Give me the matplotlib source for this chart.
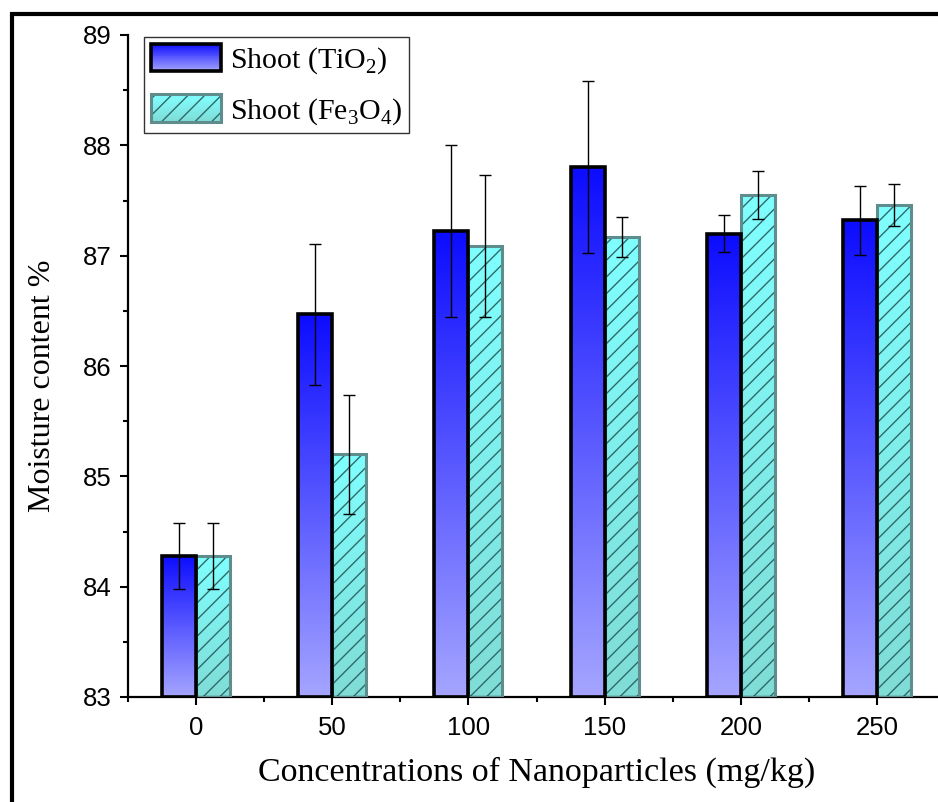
import numpy as np
import matplotlib
matplotlib.use('Agg')
import matplotlib.pyplot as plt
from matplotlib.patches import Rectangle, Patch
from matplotlib.legend_handler import HandlerBase
from matplotlib.ticker import MultipleLocator
from matplotlib.colors import to_rgb

# === Данные ===
concentrations = [0, 50, 100, 150, 200, 250]
tio2_values = [84.28, 86.47, 87.22, 87.80, 87.20, 87.32]
tio2_errors = [0.30, 0.64, 0.78, 0.78, 0.165, 0.31]
fe3o4_values = [84.28, 85.20, 87.09, 87.17, 87.55, 87.46]
fe3o4_errors = [0.30, 0.54, 0.645, 0.18, 0.22, 0.19]

series_labels = ['Shoot (TiO$_2$)', 'Shoot (Fe$_3$O$_4$)']
xlabel = 'Concentrations of Nanoparticles (mg/kg)'
ylabel = 'Moisture content %'

# === Стиль ===
plt.rcParams['mathtext.fontset'] = 'custom'
plt.rcParams['mathtext.rm'] = 'Liberation Serif'
plt.rcParams['hatch.linewidth'] = 1.0

blue_top, blue_bottom = '#0d0dff', '#a4a4ff'
cyan_top, cyan_bottom = '#80ffff', '#7fdcd6'
hatch_color = '#2f6a6a'
cyan_edge = '#5f8c8c'
bar_w = 12.5
y_min, y_max = 83, 89


def gradient(top, bottom, n=64):
    t = np.linspace(0, 1, n)[:, None, None]
    c0 = np.array(to_rgb(top))[None, None, :]
    c1 = np.array(to_rgb(bottom))[None, None, :]
    return c0 * (1 - t) + c1 * t


class GradientHandler(HandlerBase):
    # legend handle: stacked stripes give a vertical gradient
    def __init__(self, top, bottom, edge, lw, n=30):
        super().__init__()
        self.top, self.bottom, self.edge, self.lw, self.n = top, bottom, edge, lw, n

    def create_artists(self, legend, orig_handle, xdescent, ydescent,
                       width, height, fontsize, trans):
        cols = gradient(self.top, self.bottom, self.n)[:, 0, :]
        artists = []
        h = height / self.n
        for i, c in enumerate(cols):
            y0 = -ydescent + height - (i + 1) * h
            artists.append(Rectangle((-xdescent, y0), width, h * 1.05,
                                     facecolor=c, edgecolor='none', transform=trans))
        artists.append(Rectangle((-xdescent, -ydescent), width, height,
                                 facecolor='none', edgecolor=self.edge,
                                 linewidth=self.lw, transform=trans))
        return artists


class HatchGradientHandler(GradientHandler):
    def create_artists(self, legend, orig_handle, xdescent, ydescent,
                       width, height, fontsize, trans):
        artists = super().create_artists(legend, orig_handle, xdescent, ydescent,
                                         width, height, fontsize, trans)
        outline = artists.pop()
        artists.append(Rectangle((-xdescent, -ydescent), width, height,
                                 facecolor='none', edgecolor=hatch_color, linewidth=0,
                                 hatch='//', transform=trans))
        artists.append(outline)
        return artists


fig = plt.figure(figsize=(9.38, 8.02), dpi=100)
ax = fig.add_axes([128 / 938, 105 / 802, 817 / 938, 662 / 802])

x = np.array(concentrations, dtype=float)
x_tio2 = x - bar_w / 2
x_fe = x + bar_w / 2

# Градиентная заливка столбцов
for xc, v in zip(x_tio2, tio2_values):
    ax.imshow(gradient(blue_top, blue_bottom), extent=[xc - bar_w / 2, xc + bar_w / 2, y_min, v],
              aspect='auto', zorder=1, interpolation='bilinear')
for xc, v in zip(x_fe, fe3o4_values):
    ax.imshow(gradient(cyan_top, cyan_bottom), extent=[xc - bar_w / 2, xc + bar_w / 2, y_min, v],
              aspect='auto', zorder=1, interpolation='bilinear')

# Штриховка и контуры
ax.bar(x_fe, np.array(fe3o4_values) - y_min, bar_w, bottom=y_min, facecolor='none',
       edgecolor=hatch_color, linewidth=0, hatch='//', zorder=2)
ax.bar(x_fe, np.array(fe3o4_values) - y_min, bar_w, bottom=y_min, facecolor='none',
       edgecolor=cyan_edge, linewidth=2.2, zorder=3)
ax.bar(x_tio2, np.array(tio2_values) - y_min, bar_w, bottom=y_min, facecolor='none',
       edgecolor='black', linewidth=2.6, zorder=3)

# Погрешности
ax.errorbar(x_tio2, tio2_values, yerr=tio2_errors, fmt='none', ecolor='black',
            elinewidth=1.0, capsize=4.5, capthick=1.0, zorder=4)
ax.errorbar(x_fe, fe3o4_values, yerr=fe3o4_errors, fmt='none', ecolor='black',
            elinewidth=1.0, capsize=4.5, capthick=1.0, zorder=4)

ax.set_xlim(-25, 275)
ax.set_ylim(y_min, y_max)
ax.set_xticks(concentrations)
ax.set_xticks(np.arange(-25, 276, 50), minor=True)
ax.yaxis.set_major_locator(MultipleLocator(1))
ax.yaxis.set_minor_locator(MultipleLocator(0.5))

ax.spines['top'].set_visible(False)
ax.spines['right'].set_visible(False)
for s in ['left', 'bottom']:
    ax.spines[s].set_linewidth(1.6)
ax.tick_params(which='major', direction='out', length=6, width=1.5, labelsize=18.5)
ax.tick_params(axis='x', which='major', pad=8)
ax.tick_params(axis='y', which='major', pad=6)
ax.tick_params(which='minor', direction='out', length=3.5, width=1.5)
for lab in ax.get_xticklabels() + ax.get_yticklabels():
    lab.set_fontfamily('Liberation Sans')

ax.set_xlabel(xlabel, fontsize=24.5, family='Liberation Serif')
ax.set_ylabel(ylabel, fontsize=23, family='Liberation Serif')
ax.xaxis.set_label_coords(0.5, -0.09)
ax.yaxis.set_label_coords(-0.087, 0.47)

h1 = Patch(label=series_labels[0])
h2 = Patch(label=series_labels[1])
leg = ax.legend(handles=[h1, h2], loc='upper left', bbox_to_anchor=(0.0195, 0.997),
                borderaxespad=0, fancybox=False, framealpha=1, edgecolor='#333333',
                prop={'family': 'Liberation Serif', 'size': 21.5},
                handlelength=2.35, handleheight=1.05, handletextpad=0.3,
                labelspacing=0.62, borderpad=0.22,
                handler_map={h1: GradientHandler(blue_top, blue_bottom, 'black', 2.6),
                             h2: HatchGradientHandler(cyan_top, cyan_bottom, cyan_edge, 2.2)})
leg.get_frame().set_linewidth(1.0)
leg.set_zorder(5)

# Рамка рисунка
top_frac = 1 - 14 / 802
fig.patches.append(Rectangle((12 / 938, -0.2), 1.2, top_frac + 0.2,
                             transform=fig.transFigure, fill=False,
                             edgecolor='black', linewidth=3.0))

fig.savefig('out.png', dpi=100)
